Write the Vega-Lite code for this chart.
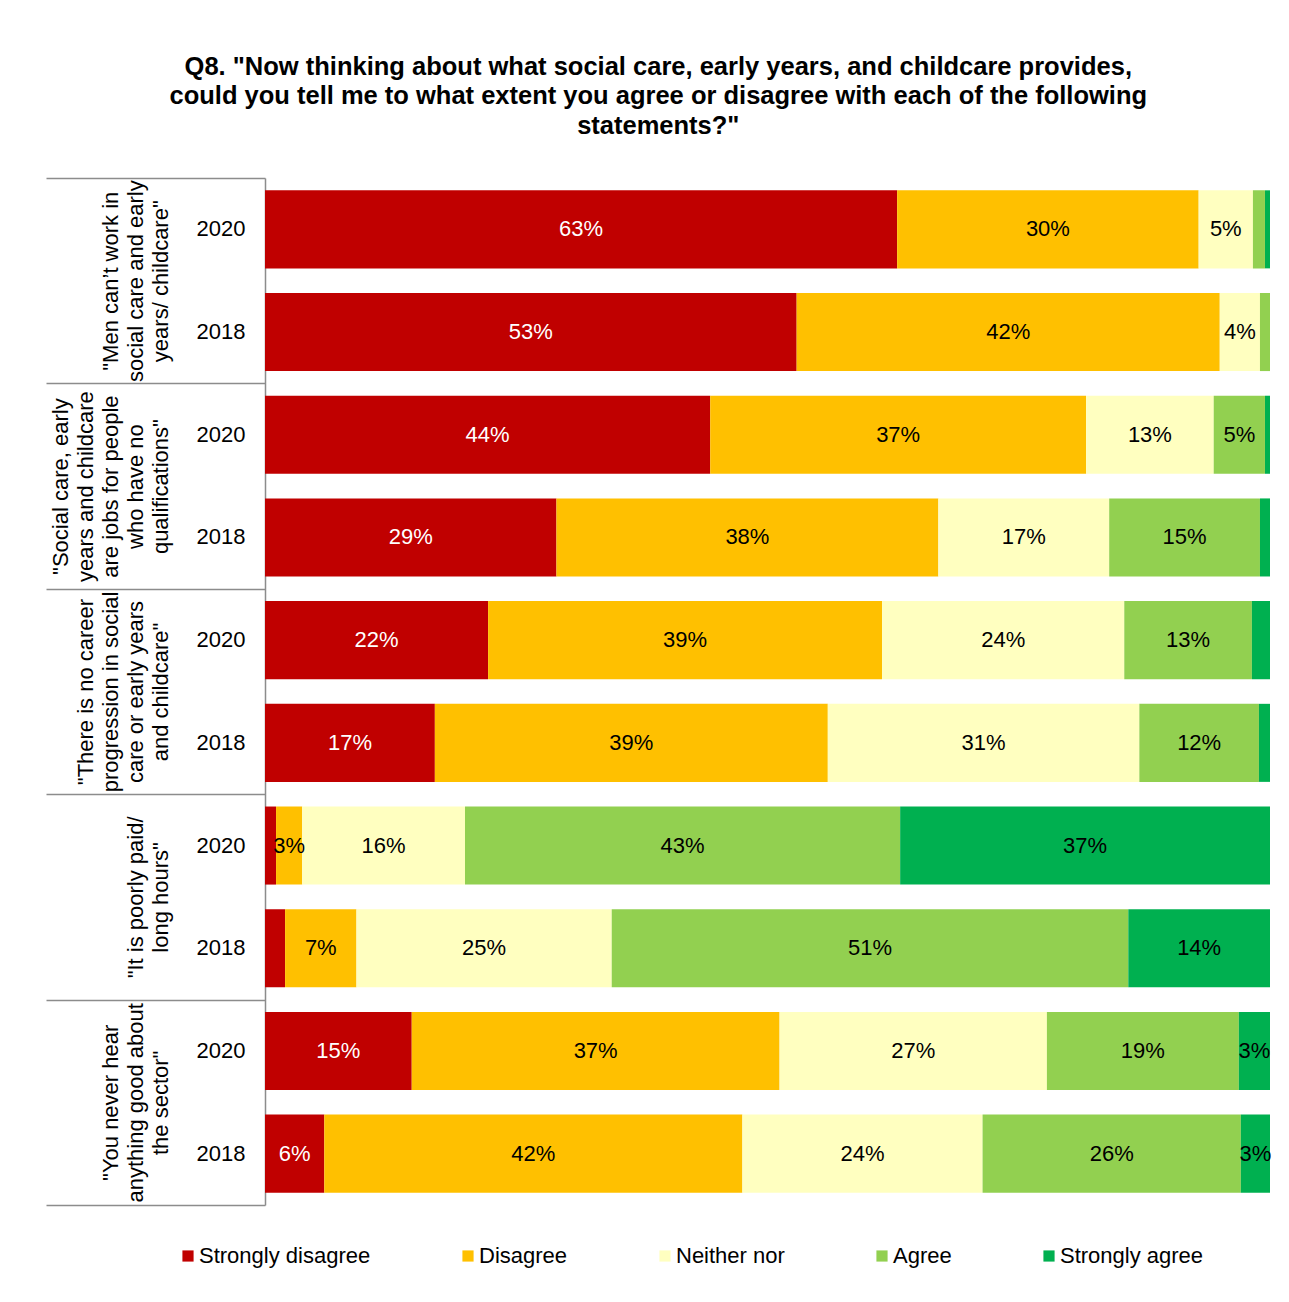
{
  "$schema": "https://vega.github.io/schema/vega-lite/v6.json",
  "width": 1005,
  "height": 1027,
  "padding": {"left": 45, "top": 54, "right": 18, "bottom": 10},
  "background": "white",
  "config": {
    "font": "Liberation Sans",
    "view": {"stroke": null},
    "legend": {
      "orient": "none",
      "legendX": -88,
      "legendY": 1067,
      "direction": "horizontal",
      "symbolType": "square",
      "symbolSize": 125,
      "symbolStrokeWidth": 0,
      "labelFontSize": 22,
      "labelColor": "black",
      "labelLimit": 400,
      "columnPadding": 86,
      "labelOffset": 0
    }
  },
  "title": {
    "text": [
      "Q8. \"Now thinking about what social care, early years, and childcare provides,",
      "could you tell me to what extent you agree or disagree with each of the following",
      "statements?\""
    ],
    "fontSize": 25.5,
    "fontWeight": "bold",
    "lineHeight": 29.5,
    "anchor": "middle",
    "frame": "bounds",
    "offset": 38,
    "color": "black"
  },
  "data": {
    "values": [
      {"statement": "\"Men can’t work in|social care and early|years/ childcare\"", "year": "2020", "response": "Strongly disagree", "pct": 0.629},
      {"statement": "\"Men can’t work in|social care and early|years/ childcare\"", "year": "2020", "response": "Disagree", "pct": 0.300},
      {"statement": "\"Men can’t work in|social care and early|years/ childcare\"", "year": "2020", "response": "Neither nor", "pct": 0.054},
      {"statement": "\"Men can’t work in|social care and early|years/ childcare\"", "year": "2020", "response": "Agree", "pct": 0.012},
      {"statement": "\"Men can’t work in|social care and early|years/ childcare\"", "year": "2020", "response": "Strongly agree", "pct": 0.005},
      {"statement": "\"Men can’t work in|social care and early|years/ childcare\"", "year": "2018", "response": "Strongly disagree", "pct": 0.529},
      {"statement": "\"Men can’t work in|social care and early|years/ childcare\"", "year": "2018", "response": "Disagree", "pct": 0.421},
      {"statement": "\"Men can’t work in|social care and early|years/ childcare\"", "year": "2018", "response": "Neither nor", "pct": 0.040},
      {"statement": "\"Men can’t work in|social care and early|years/ childcare\"", "year": "2018", "response": "Agree", "pct": 0.010},
      {"statement": "\"Social care, early|years and childcare|are jobs for people|who have no|qualifications\"", "year": "2020", "response": "Strongly disagree", "pct": 0.443},
      {"statement": "\"Social care, early|years and childcare|are jobs for people|who have no|qualifications\"", "year": "2020", "response": "Disagree", "pct": 0.374},
      {"statement": "\"Social care, early|years and childcare|are jobs for people|who have no|qualifications\"", "year": "2020", "response": "Neither nor", "pct": 0.127},
      {"statement": "\"Social care, early|years and childcare|are jobs for people|who have no|qualifications\"", "year": "2020", "response": "Agree", "pct": 0.051},
      {"statement": "\"Social care, early|years and childcare|are jobs for people|who have no|qualifications\"", "year": "2020", "response": "Strongly agree", "pct": 0.005},
      {"statement": "\"Social care, early|years and childcare|are jobs for people|who have no|qualifications\"", "year": "2018", "response": "Strongly disagree", "pct": 0.290},
      {"statement": "\"Social care, early|years and childcare|are jobs for people|who have no|qualifications\"", "year": "2018", "response": "Disagree", "pct": 0.380},
      {"statement": "\"Social care, early|years and childcare|are jobs for people|who have no|qualifications\"", "year": "2018", "response": "Neither nor", "pct": 0.170},
      {"statement": "\"Social care, early|years and childcare|are jobs for people|who have no|qualifications\"", "year": "2018", "response": "Agree", "pct": 0.150},
      {"statement": "\"Social care, early|years and childcare|are jobs for people|who have no|qualifications\"", "year": "2018", "response": "Strongly agree", "pct": 0.010},
      {"statement": "\"There is no career|progression in social|care or early years|and childcare\"", "year": "2020", "response": "Strongly disagree", "pct": 0.222},
      {"statement": "\"There is no career|progression in social|care or early years|and childcare\"", "year": "2020", "response": "Disagree", "pct": 0.392},
      {"statement": "\"There is no career|progression in social|care or early years|and childcare\"", "year": "2020", "response": "Neither nor", "pct": 0.241},
      {"statement": "\"There is no career|progression in social|care or early years|and childcare\"", "year": "2020", "response": "Agree", "pct": 0.127},
      {"statement": "\"There is no career|progression in social|care or early years|and childcare\"", "year": "2020", "response": "Strongly agree", "pct": 0.018},
      {"statement": "\"There is no career|progression in social|care or early years|and childcare\"", "year": "2018", "response": "Strongly disagree", "pct": 0.169},
      {"statement": "\"There is no career|progression in social|care or early years|and childcare\"", "year": "2018", "response": "Disagree", "pct": 0.391},
      {"statement": "\"There is no career|progression in social|care or early years|and childcare\"", "year": "2018", "response": "Neither nor", "pct": 0.310},
      {"statement": "\"There is no career|progression in social|care or early years|and childcare\"", "year": "2018", "response": "Agree", "pct": 0.119},
      {"statement": "\"There is no career|progression in social|care or early years|and childcare\"", "year": "2018", "response": "Strongly agree", "pct": 0.011},
      {"statement": "\"It is poorly paid/|long hours\"", "year": "2020", "response": "Strongly disagree", "pct": 0.011},
      {"statement": "\"It is poorly paid/|long hours\"", "year": "2020", "response": "Disagree", "pct": 0.026},
      {"statement": "\"It is poorly paid/|long hours\"", "year": "2020", "response": "Neither nor", "pct": 0.162},
      {"statement": "\"It is poorly paid/|long hours\"", "year": "2020", "response": "Agree", "pct": 0.433},
      {"statement": "\"It is poorly paid/|long hours\"", "year": "2020", "response": "Strongly agree", "pct": 0.368},
      {"statement": "\"It is poorly paid/|long hours\"", "year": "2018", "response": "Strongly disagree", "pct": 0.020},
      {"statement": "\"It is poorly paid/|long hours\"", "year": "2018", "response": "Disagree", "pct": 0.071},
      {"statement": "\"It is poorly paid/|long hours\"", "year": "2018", "response": "Neither nor", "pct": 0.254},
      {"statement": "\"It is poorly paid/|long hours\"", "year": "2018", "response": "Agree", "pct": 0.514},
      {"statement": "\"It is poorly paid/|long hours\"", "year": "2018", "response": "Strongly agree", "pct": 0.141},
      {"statement": "\"You never hear|anything good about|the sector\"", "year": "2020", "response": "Strongly disagree", "pct": 0.146},
      {"statement": "\"You never hear|anything good about|the sector\"", "year": "2020", "response": "Disagree", "pct": 0.366},
      {"statement": "\"You never hear|anything good about|the sector\"", "year": "2020", "response": "Neither nor", "pct": 0.266},
      {"statement": "\"You never hear|anything good about|the sector\"", "year": "2020", "response": "Agree", "pct": 0.191},
      {"statement": "\"You never hear|anything good about|the sector\"", "year": "2020", "response": "Strongly agree", "pct": 0.031},
      {"statement": "\"You never hear|anything good about|the sector\"", "year": "2018", "response": "Strongly disagree", "pct": 0.059},
      {"statement": "\"You never hear|anything good about|the sector\"", "year": "2018", "response": "Disagree", "pct": 0.416},
      {"statement": "\"You never hear|anything good about|the sector\"", "year": "2018", "response": "Neither nor", "pct": 0.239},
      {"statement": "\"You never hear|anything good about|the sector\"", "year": "2018", "response": "Agree", "pct": 0.257},
      {"statement": "\"You never hear|anything good about|the sector\"", "year": "2018", "response": "Strongly agree", "pct": 0.029}
    ]
  },
  "transform": [
    {"calculate": "datum.statement + '#' + datum.year", "as": "row"},
    {"calculate": "indexof(['Strongly disagree','Disagree','Neither nor','Agree','Strongly agree'], datum.response)", "as": "rk"}
  ],
  "layer": [
    {
      "encoding": {
        "y": {
          "field": "row",
          "type": "nominal",
          "sort": null,
          "scale": {"type": "band", "paddingInner": 0, "paddingOuter": 0},
          "axis": {
            "orient": "left",
            "title": null,
            "ticks": false,
            "domain": true,
            "domainColor": "#8c8c8c",
            "domainWidth": 1.5,
            "labelExpr": "slice(datum.label, -4)",
            "labelFontSize": 22,
            "labelColor": "black",
            "labelPadding": 20
          }
        },
        "x": {
          "field": "pct",
          "type": "quantitative",
          "stack": "zero",
          "scale": {"domain": [0, 1]},
          "axis": null
        },
        "order": {"field": "rk", "type": "quantitative"}
      },
      "layer": [
        {
          "mark": {"type": "bar", "height": {"band": 0.76}},
          "encoding": {
            "color": {
              "field": "response",
              "type": "nominal",
              "scale": {
                "domain": ["Strongly disagree", "Disagree", "Neither nor", "Agree", "Strongly agree"],
                "range": ["#C00000", "#FFC000", "#FFFFC0", "#92D050", "#00B050"]
              },
              "legend": {"title": null}
            }
          }
        },
        {
          "mark": {"type": "text", "fontSize": 22, "baseline": "middle", "align": "center"},
          "encoding": {
            "x": {"field": "pct", "type": "quantitative", "stack": "zero", "bandPosition": 0.5},
            "detail": {"field": "response", "type": "nominal"},
            "text": {
              "condition": {"test": "datum.pct < 0.025", "value": ""},
              "field": "pct",
              "type": "quantitative",
              "format": ".0%"
            },
            "color": {
              "condition": {"test": "datum.response === 'Strongly disagree'", "value": "white"},
              "value": "black"
            }
          }
        }
      ]
    },
    {
      "mark": {"type": "text", "text": ""},
      "encoding": {
        "y": {
          "field": "statement",
          "type": "nominal",
          "sort": null,
          "scale": {"type": "band", "paddingInner": 0, "paddingOuter": 0},
          "axis": {
            "orient": "left",
            "title": null,
            "domain": false,
            "tickBand": "extent",
            "tickSize": 219,
            "tickColor": "#8c8c8c",
            "tickWidth": 1.5,
            "labelAngle": -90,
            "labelAlign": "center",
            "labelBaseline": "bottom",
            "labelPadding": -26,
            "labelLineHeight": 25,
            "labelFontSize": 22,
            "labelColor": "black",
            "labelExpr": "split(slice('\u200b|\u200b|\u200b|\u200b|', 0, 2 * (5 - length(split(datum.label, '|')))) + datum.label, '|')",
            "labelOverlap": false,
            "labelLimit": 0
          }
        }
      }
    }
  ],
  "resolve": {"scale": {"y": "independent"}, "axis": {"y": "independent"}}
}
